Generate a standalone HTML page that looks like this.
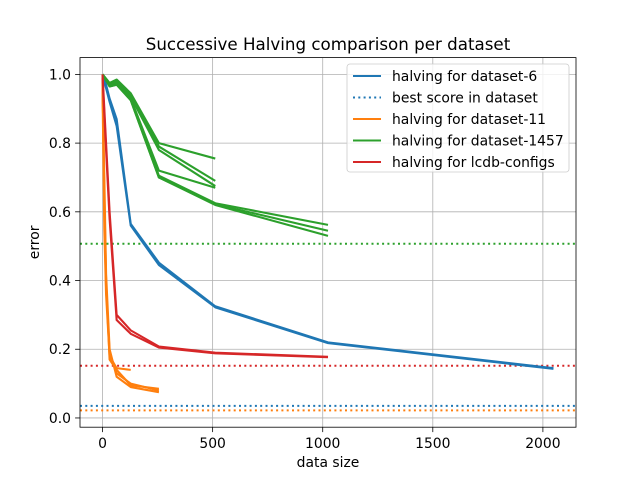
<!DOCTYPE html>
<html><head><meta charset="utf-8"><style>
body{margin:0;background:#fff}
svg{font-family:"DejaVu Sans","Liberation Sans",sans-serif}
</style></head><body>
<svg id="chart" width="640" height="480" viewBox="0 0 640 480"></svg>
<script>
const xTicks=[0,500,1000,1500,2000];
const yTicks=[0.0,0.2,0.4,0.6,0.8,1.0];
const seriesNames=["halving for dataset-6","best score in dataset","halving for dataset-11","halving for dataset-1457","halving for lcdb-configs"];
const colors=["#1f77b4","#ff7f0e","#2ca02c","#d62728"];
const blueRuns=[
 [[0,1.0],[16,0.97],[32,0.93],[64,0.87],[128,0.565],[256,0.452],[512,0.325],[1024,0.22],[2048,0.145]],
 [[0,0.99],[16,0.96],[32,0.92],[64,0.85],[128,0.56],[256,0.445],[512,0.322],[1024,0.218],[2048,0.143]]];
const orangeRuns=[
 [[0,1.0],[8,0.6],[16,0.38],[32,0.19],[64,0.13],[128,0.1],[256,0.08]],
 [[0,0.98],[8,0.65],[16,0.4],[32,0.17],[64,0.14],[128,0.095],[256,0.085]],
 [[0,0.96],[8,0.7],[16,0.42],[32,0.2],[64,0.12],[128,0.09],[256,0.075]],
 [[0,0.95],[8,0.55],[16,0.36],[32,0.18],[64,0.145],[128,0.14]]];
const greenRuns=[
 [[0,1.0],[32,0.975],[64,0.985],[128,0.945],[256,0.80],[512,0.755]],
 [[0,1.0],[32,0.975],[64,0.98],[128,0.94],[256,0.79],[512,0.69]],
 [[0,1.0],[32,0.97],[64,0.975],[128,0.935],[256,0.78],[512,0.675]],
 [[0,1.0],[32,0.97],[64,0.98],[128,0.93],[256,0.72],[512,0.67]],
 [[0,1.0],[32,0.97],[64,0.975],[128,0.93],[256,0.705],[512,0.625],[1024,0.562]],
 [[0,1.0],[32,0.965],[64,0.97],[128,0.925],[256,0.70],[512,0.622],[1024,0.545]],
 [[0,1.0],[32,0.965],[64,0.97],[128,0.925],[256,0.70],[512,0.62],[1024,0.53]]];
const redRuns=[
 [[0,1.0],[16,0.8],[32,0.6],[64,0.3],[128,0.255],[256,0.208],[512,0.19],[1024,0.178]],
 [[0,0.99],[16,0.78],[32,0.58],[64,0.285],[128,0.245],[256,0.205],[512,0.188],[1024,0.177]]];
const bestScores=[0.035,0.022,0.507,0.152];

const L=80,R=576,T=57.6,B=427.2,xmin=-102.4,xmax=2150.4,ymin=-0.0269,ymax=1.0489;
const X=v=>L+(v-xmin)/(xmax-xmin)*(R-L);
const Y=v=>B-(v-ymin)/(ymax-ymin)*(B-T);
const svg=document.getElementById('chart');
const NS='http://www.w3.org/2000/svg';
function mk(tag,attrs,parent){const e=document.createElementNS(NS,tag);for(const k in attrs)e.setAttribute(k,attrs[k]);(parent||svg).appendChild(e);return e;}
xTicks.forEach(t=>{const g=mk('line',{x1:X(t),x2:X(t),y1:T,y2:B,stroke:'#b0b0b0','stroke-width':0.8});


const k=mk('line',{x1:X(t),x2:X(t),y1:B,y2:B+4.9,stroke:'#000','stroke-width':0.8});


const tx=mk('text',{x:X(t),y:B+21,'font-size':13.9,'text-anchor':'middle'});tx.textContent=t;

});
yTicks.forEach(t=>{const g=mk('line',{x1:L,x2:R,y1:Y(t),y2:Y(t),stroke:'#b0b0b0','stroke-width':0.8});


const k=mk('line',{x1:L-4.9,x2:L,y1:Y(t),y2:Y(t),stroke:'#000','stroke-width':0.8});


const tx=mk('text',{x:L-9,y:Y(t)+5,'font-size':13.9,'text-anchor':'end'});tx.textContent=t.toFixed(1);

});
bestScores.forEach((s,i)=>{const l=mk('line',{x1:L,x2:R,y1:Y(s),y2:Y(s),stroke:colors[i],'stroke-width':2,'stroke-dasharray':'2,3.3'});

});
const groups=[[blueRuns,0,'dataset-6-run'],[orangeRuns,1,'dataset-11-run'],[greenRuns,2,'dataset-1457-run'],[redRuns,3,'lcdb-configs-run']];
groups.forEach(([runs,ci,nm])=>runs.forEach(r=>{
 const p=mk('polyline',{points:r.map(d=>X(d[0])+','+Y(d[1])).join(' '),fill:'none',stroke:colors[ci],'stroke-width':2.1,'stroke-linejoin':'round'});
 
 
}));
const fr=mk('rect',{x:L,y:T,width:R-L,height:B-T,fill:'none',stroke:'#000','stroke-width':0.8});


const ti=mk('text',{x:(L+R)/2,y:50,'font-size':16.7,'text-anchor':'middle'});ti.textContent='Successive Halving comparison per dataset';


const xl=mk('text',{x:(L+R)/2,y:467,'font-size':13.9,'text-anchor':'middle'});xl.textContent='data size';


const yl=mk('text',{x:0,y:0,'font-size':13.9,'text-anchor':'middle',transform:'translate(39,'+((T+B)/2)+') rotate(-90)'});yl.textContent='error';


const lg=mk('g',{});


mk('rect',{x:347,y:64,width:222,height:108,rx:3,fill:'#fff','fill-opacity':0.8,stroke:'#ccc','stroke-width':0.8},lg);
const legColors=[colors[0],colors[0],colors[1],colors[2],colors[3]];
seriesNames.forEach((n,i)=>{const y=76+i*21.5;
 const ln=mk('line',{x1:353,x2:381,y1:y,y2:y,stroke:legColors[i],'stroke-width':2,'stroke-dasharray':i==1?'2,3.3':'none'},lg);
 
 
 const t=mk('text',{x:392,y:y+5,'font-size':13.9},lg);t.textContent=n;
 
 });
</script>
</body></html>
